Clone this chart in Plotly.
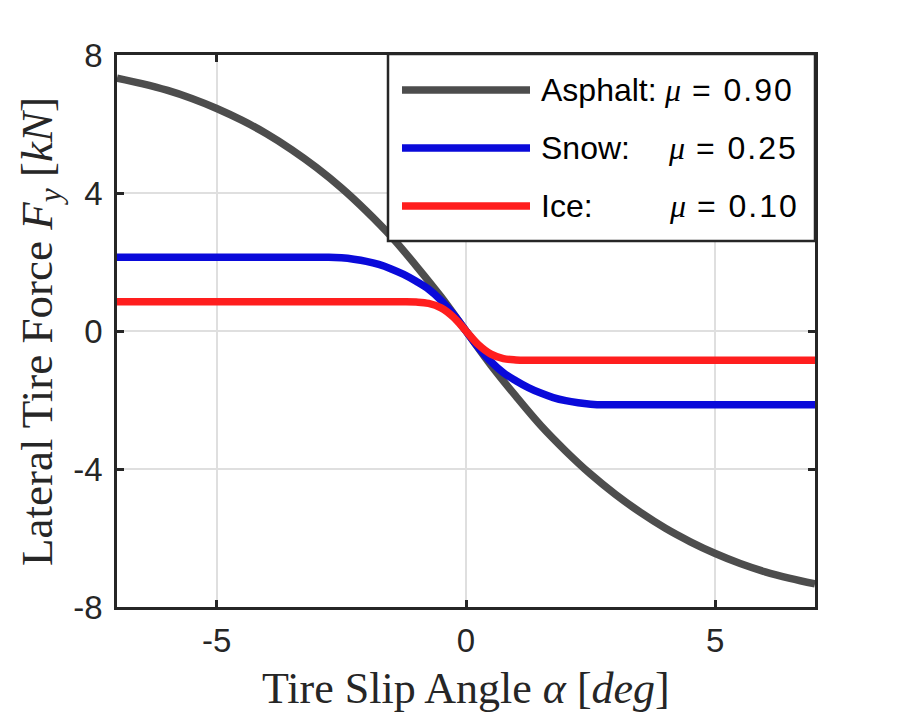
import plotly.graph_objects as go

# ---- data ----
asphalt_alpha = [-7, -6.5, -6, -5.5, -5, -4.5, -4, -3.5, -3, -2.5, -2, -1.5, -1, -0.5, 0,
                 0.5, 1, 1.5, 2, 2.5, 3, 3.5, 4, 4.5, 5, 5.5, 6, 6.5, 7]
asphalt_fy = [7.33, 7.17, 6.98, 6.74, 6.45, 6.11, 5.72, 5.26, 4.74, 4.15, 3.48, 2.74, 1.89, 0.99, 0,
              -0.99, -1.89, -2.74, -3.48, -4.15, -4.74, -5.26, -5.72, -6.11, -6.45, -6.74, -6.98, -7.17, -7.33]

snow_alpha = [-7, -3.5, -3.25, -3, -2.75, -2.5, -2.25, -2, -1.75, -1.5, -1.25, -1, -0.75, -0.5, -0.25, 0,
              0.25, 0.5, 0.75, 1, 1.25, 1.5, 1.75, 2, 2.25, 2.5, 2.75, 3, 3.25, 3.5, 7]
snow_fy = [2.14, 2.14, 2.14, 2.14, 2.14, 2.12, 2.08, 2.02, 1.93, 1.80, 1.64, 1.44, 1.21, 0.89, 0.48, 0,
           -0.48, -0.89, -1.21, -1.44, -1.64, -1.80, -1.93, -2.02, -2.08, -2.12, -2.14, -2.14, -2.14, -2.14, -2.14]

ice_alpha = [-7, -1.75, -1.5, -1.25, -1, -0.75, -0.5, -0.25, 0,
             0.25, 0.5, 0.75, 1, 1.25, 1.5, 1.75, 7]
ice_fy = [0.85, 0.85, 0.85, 0.85, 0.84, 0.80, 0.67, 0.40, 0,
          -0.40, -0.67, -0.80, -0.84, -0.85, -0.85, -0.85, -0.85]

series_names = ["Asphalt:", "Snow:", "Ice:"]
series_mu = ["0.90", "0.25", "0.10"]
series_colors = ["#4D4D4D", "#0A0ADA", "#FF1E1E"]

x_ticks = [-5, 0, 5]
y_ticks = [-8, -4, 0, 4, 8]

# ---- layout geometry (pixels) ----
W, H = 900, 720
L, R, T, B = 117, 815, 55, 607


def px(x):
    return (x - L) / (R - L)


def py(y):
    return (B - y) / (B - T)


SANS = "Liberation Sans, Arial, Helvetica, sans-serif"
SERIF = "Liberation Serif, DejaVu Serif, serif"

fig = go.Figure()
for xs, ys, c in zip([asphalt_alpha, snow_alpha, ice_alpha],
                     [asphalt_fy, snow_fy, ice_fy], series_colors):
    fig.add_trace(go.Scatter(x=xs, y=ys, mode="lines",
                             line=dict(color=c, width=7.5, shape="spline", smoothing=1.0),
                             showlegend=False, hoverinfo="skip"))

axis_common = dict(
    showline=True, linecolor="#262626", linewidth=2.5, mirror="ticks",
    ticks="inside", ticklen=7, tickwidth=2.5, tickcolor="#262626",
    showgrid=True, gridcolor="#DFDFDF", gridwidth=2,
    zeroline=False,
    tickfont=dict(family=SANS, size=33, color="#262626"),
)

fig.update_xaxes(range=[-7, 7], tickvals=x_ticks, ticktext=[str(v) for v in x_ticks],
                 ticklabelstandoff=3, **axis_common)
fig.update_yaxes(range=[-8, 8], tickvals=y_ticks, ticktext=[str(v) for v in y_ticks],
                 ticklabelstandoff=5, **axis_common)

shapes = []
annotations = []
# legend box (opaque, drawn above the curves)
shapes.append(dict(type="rect", xref="paper", yref="paper", layer="above",
                   x0=px(388), x1=px(815), y0=py(241), y1=py(54),
                   fillcolor="white", line=dict(color="#262626", width=2.5)))
row_y = [90, 148, 206]
mu_x = [662, 666, 667]
for i in range(3):
    shapes.append(dict(type="line", xref="paper", yref="paper", layer="above",
                       x0=px(402), x1=px(530), y0=py(row_y[i]), y1=py(row_y[i]),
                       line=dict(color=series_colors[i], width=7.5)))
    annotations.append(dict(xref="paper", yref="paper", x=px(539), y=py(row_y[i]),
                            xanchor="left", yanchor="middle", showarrow=False,
                            text=series_names[i],
                            font=dict(family=SANS, size=32, color="black")))
    annotations.append(dict(xref="paper", yref="paper", x=px(mu_x[i]), y=py(row_y[i]),
                            xanchor="left", yanchor="middle", showarrow=False,
                            text="<span style='font-family:Liberation Serif'><i>μ</i></span>"
                                 "<span style='letter-spacing:2px'> = "
                                 + series_mu[i] + "</span>",
                            font=dict(family=SANS, size=32, color="black")))

# axis titles
annotations.append(dict(xref="paper", yref="paper", x=px(466), y=py(688),
                        xanchor="center", yanchor="middle", showarrow=False,
                        text="Tire Slip Angle <i>α</i> [<i>deg</i>]",
                        font=dict(family=SERIF, size=44, color="#262626")))
annotations.append(dict(xref="paper", yref="paper", x=px(40), y=py(332),
                        xanchor="center", yanchor="middle", showarrow=False, textangle=-90,
                        text="Lateral Tire Force <i>F<sub>y</sub></i> [<i>kN</i>]",
                        font=dict(family=SERIF, size=45, color="#262626")))

fig.update_layout(
    width=W, height=H,
    margin=dict(l=L, r=W - R, t=T, b=H - B, autoexpand=False),
    paper_bgcolor="white", plot_bgcolor="white",
    shapes=shapes, annotations=annotations,
    showlegend=False,
)

fig.write_html("out.html")
